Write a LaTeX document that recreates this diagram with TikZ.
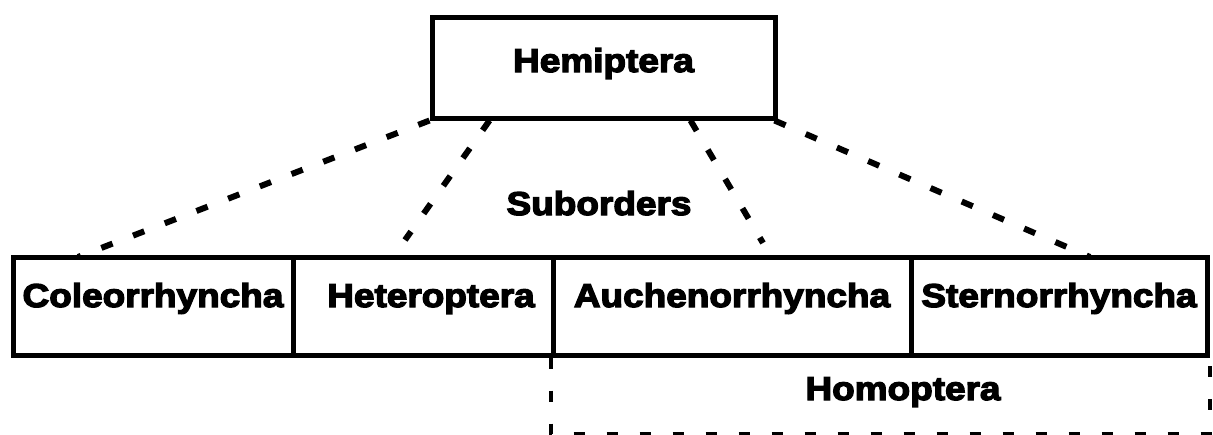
\documentclass[tikz,border=0pt]{standalone}
\usepackage{fontspec}
\newfontfamily\heavyfont{Liberation Sans}[UprightFont={* Bold},FakeStretch=1.12,FakeBold=4]
\usepackage{tikz}
\usetikzlibrary{calc}
\tikzset{
  taxbox/.style={draw,line width=5pt,inner sep=0pt,minimum height=98pt,
    font=\heavyfont\fontsize{33}{36}\selectfont,text height=23pt,text depth=21pt},
  toptax/.style={taxbox,minimum width=343pt,minimum height=101pt,text depth=14pt},
  linkdash/.style={line width=6pt,dash pattern=on 12pt off 22pt},
  groupdash/.style={line width=4pt,dash pattern=on 11pt off 22pt},
  tlab/.style={font=\heavyfont\fontsize{33}{36}\selectfont,inner sep=0pt,anchor=base},
}

\begin{document}
\begin{tikzpicture}[x=1pt,y=-1pt]
        \useasboundingbox (0,0) rectangle (1213,434);
        \node[toptax] (hemi) at (603.5,67.5) {Hemiptera\hspace{24pt}};
        % row of suborders
        \node[taxbox,minimum width=280pt] (coleo) at (153,306) {Coleorrhyncha};
        \node[taxbox,minimum width=260pt] (hetero) at (423,306) {\hspace{16pt}Heteroptera};
        \node[taxbox,minimum width=358pt] (auchen) at (732,306) {Auchenorrhyncha};
        \node[taxbox,minimum width=296pt] (stern) at (1059,306) {Sternorrhyncha};
        \node[tlab] (subord) at (599,215) {Suborders};
        % Homoptera bracket
        \draw[groupdash] (auchen.south west) -- ++(0,76) -| (stern.south east);
        \node[tlab] (homo) at (903,400) {Homoptera};
        % dashed links
        \coordinate (coleoend) at (78,257);
        \coordinate (heteroend) at (405,240);
        \coordinate (auchenend) at (763,243);
        \coordinate (sternend) at (1090,257);
        \draw[linkdash] (hemi.south west) -- (coleoend);
        \draw[linkdash] ($(hemi.south west)+(60,0)$) -- (heteroend);
        \draw[linkdash] ($(hemi.south west)+(261,0)$) -- (auchenend);
        \draw[linkdash] ($(hemi.south east)+(-3,0)$) -- (sternend);
      \end{tikzpicture}
\end{document}
